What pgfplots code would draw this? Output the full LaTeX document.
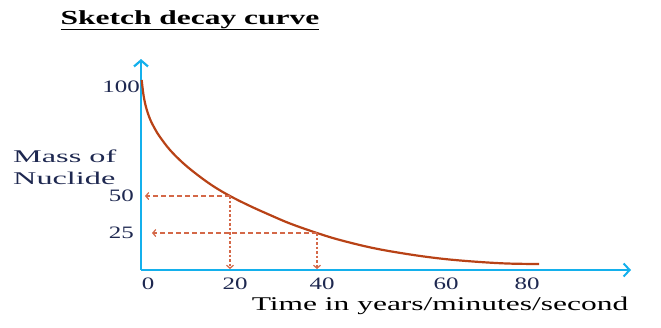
\documentclass[border=0pt]{standalone}
\usepackage{pgfplots}
\pgfplotsset{compat=1.18}
\usepackage{graphicx}
\usepackage{fontspec}
\setmainfont{Liberation Serif}
\usetikzlibrary{arrows.meta}
\definecolor{axisblue}{RGB}{20,176,236}
\definecolor{curvered}{RGB}{184,66,22}
\definecolor{dashred}{RGB}{212,104,72}
\definecolor{navytext}{RGB}{30,40,80}
\begin{document}
\begin{tikzpicture}
\begin{axis}[
  x=1bp, y=1bp,
  xmin=0, xmax=490, ymin=0, ymax=211,
  axis lines=left,
  clip=false,
  axis line style={draw=axisblue, line width=2.6bp},
  x axis line style={-{Straight Barb[length=6bp,width=13bp,line width=2bp]}},
  y axis line style={-{Straight Barb[length=6bp,width=14bp,line width=2.2bp]}},
  major tick length=0pt,
  tick style={draw=none},
  xtick={7,94,181,305,386},
  xticklabels={\scalebox{1.43}[1]{0},\scalebox{1.43}[1]{20},\scalebox{1.43}[1]{40},\scalebox{1.43}[1]{60},\scalebox{1.43}[1]{80}},
  xticklabel style={anchor=north, inner sep=0pt, yshift=-8bp, text=navytext,
    font=\fontsize{17.5}{18}\selectfont},
  ytick={37,74},
  yticklabels={\scalebox{1.43}[1]{25},\scalebox{1.43}[1]{50}},
  yticklabel style={anchor=east, inner sep=0pt, xshift=-7bp, text=navytext,
    font=\fontsize{17.5}{18}\selectfont},
  extra y ticks={183},
  extra y tick labels={\scalebox{1.43}[1]{100}},
  extra y tick style={yticklabel style={xshift=6bp}},
]
% decay curve (sketch)
\addplot[curvered, line width=2.2bp, smooth, tension=0.6] coordinates {
  (0.7,190) (2.5,175) (5,163) (9,151) (14,141) (19,133) (29,120) (42,107) (56,95.5) (72,84)
  (89,74) (109,64) (129,55) (149,46.5) (176,37) (199,30) (232,22) (266,16)
  (299,11.5) (332,8.5) (366,6.5) (398,6)
};
% guide arrows
\addplot[dashred, line width=1.2bp, dash pattern=on 5bp off 3bp,
  -{Straight Barb[length=3bp,width=7bp]}] coordinates {(89,74) (4,74)};
\addplot[dashred, line width=1.2bp, dash pattern=on 5bp off 3bp,
  -{Straight Barb[length=3bp,width=7bp]}] coordinates {(176,37) (11,37)};
\addplot[dashred, line width=1.2bp, dash pattern=on 2.5bp off 2bp,
  -{Straight Barb[length=3bp,width=7bp]}] coordinates {(89,74) (89,1)};
\addplot[dashred, line width=1.2bp, dash pattern=on 2.5bp off 2bp,
  -{Straight Barb[length=3bp,width=7bp]}] coordinates {(176,37) (176,1)};
% texts
\node[font=\fontsize{20}{22}\selectfont\bfseries, inner sep=0pt, anchor=base]
  at (axis cs:49,246) {\scalebox{1.58}[1]{\underline{Sketch decay curve}}};
\node[font=\fontsize{18}{22}\selectfont, text=navytext, inner sep=0pt, anchor=north west]
  at (axis cs:-128,123) {\scalebox{1.8}[1]{\begin{tabular}{@{}l@{}}Mass of\\Nuclide\end{tabular}}};
\node[font=\fontsize{19.5}{22}\selectfont, inner sep=0pt, anchor=base]
  at (axis cs:299,-40) {\scalebox{1.62}[1]{Time in years/minutes/second}};
\path (axis cs:-141,-57) rectangle (axis cs:520,270);
\end{axis}
\end{tikzpicture}
\end{document}
